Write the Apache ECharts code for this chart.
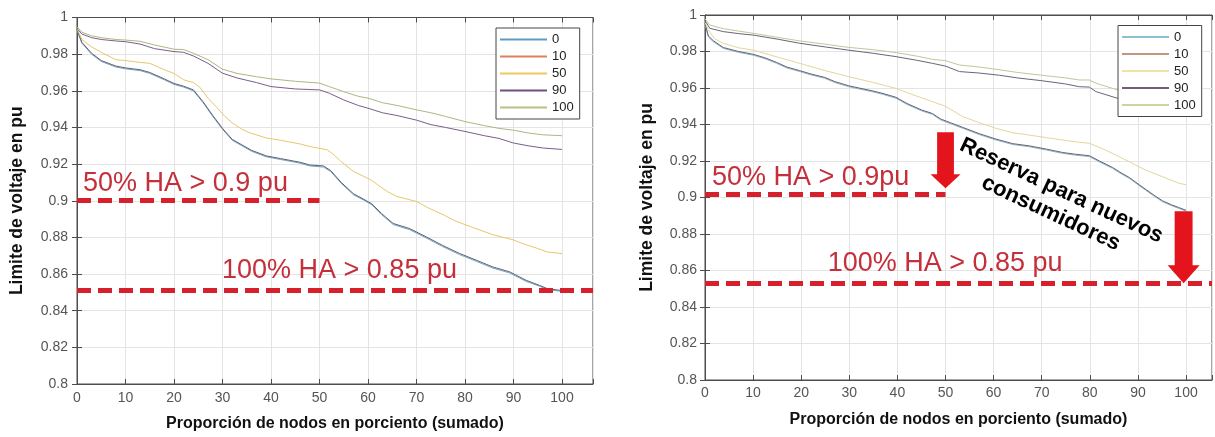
<!DOCTYPE html>
<html><head><meta charset="utf-8">
<script src="https://cdn.jsdelivr.net/npm/echarts@6/dist/echarts.min.js"></script>
<style>html,body{margin:0;padding:0;background:#fff}#c{width:1215px;height:437px}</style>
</head><body><div id="c"></div>
<script>
// ---------- data ----------
const seriesNames = ['0', '10', '50', '90', '100'];
const xAxisTitle = 'Proporción de nodos en porciento (sumado)';
const yAxisTitle = 'Limite de voltaje en pu';

// Left chart
const left0 = [[0,0.993],[1,0.986],[3,0.980],[5,0.976],[8,0.973],[10,0.972],[13,0.971],[15,0.9695],[18,0.966],[20,0.9635],[22,0.962],[24,0.960],[26,0.9535],[28,0.946],[30,0.939],[32,0.933],[34,0.930],[36,0.927],[39,0.924],[42,0.9225],[46,0.9205],[48,0.919],[50.8,0.9184],[52.3,0.916],[54.4,0.9097],[57,0.9033],[59,0.9005],[60.8,0.8978],[62.8,0.8924],[65.2,0.887],[68.6,0.8842],[72,0.8797],[75.4,0.875],[78.9,0.8706],[82.3,0.867],[85.7,0.8633],[89.2,0.8606],[92.6,0.856],[95.4,0.8533],[97,0.8515],[100,0.8505]];
const left10 = [[0,0.9935],[1,0.9865],[3,0.9805],[5,0.9765],[8,0.9735],[10,0.9725],[13,0.9715],[15,0.970],[18,0.9665],[20,0.964],[22,0.9625],[24,0.9605],[26,0.954],[28,0.9465],[30,0.9395],[32,0.9335],[34,0.9305],[36,0.9275],[39,0.9245],[42,0.923],[46,0.921],[48,0.9195],[50.8,0.919],[52.3,0.9165],[54.4,0.9102],[57,0.9038],[59,0.901],[60.8,0.8983],[62.8,0.893],[65.2,0.8876],[68.6,0.8848],[72,0.8803],[75.4,0.8756],[78.9,0.8712],[82.3,0.8676],[85.7,0.8639],[89.2,0.8612],[92.6,0.8566],[95.4,0.8538],[97,0.852],[100,0.851]];
const left50 = [[0,0.994],[1,0.988],[3,0.984],[5,0.981],[8,0.977],[10,0.9765],[13,0.9755],[15,0.975],[18,0.9715],[20,0.9695],[22,0.966],[24,0.9645],[25.3,0.962],[27,0.956],[28.8,0.951],[30.5,0.946],[32,0.9425],[34,0.939],[35.7,0.937],[39,0.9343],[42,0.933],[46,0.931],[48,0.9296],[51.6,0.9278],[53,0.925],[54.4,0.9215],[57,0.916],[60.6,0.9114],[62,0.9087],[64,0.905],[66,0.9023],[70,0.8996],[72.5,0.896],[75.5,0.8924],[78,0.889],[81,0.886],[85.7,0.8815],[89.9,0.8787],[92,0.8765],[94.7,0.8742],[97,0.872],[100,0.8712]];
const left90 = [[0,0.994],[1,0.991],[3,0.989],[5,0.988],[8,0.9872],[10,0.9868],[13,0.9855],[16,0.983],[20,0.9814],[22,0.981],[24,0.979],[27,0.975],[30,0.9696],[33,0.967],[37,0.9645],[40,0.9623],[45,0.961],[50,0.9605],[52,0.9587],[55,0.955],[58,0.952],[60,0.9505],[63,0.948],[66,0.9465],[70,0.944],[73,0.9415],[76,0.94],[80,0.9378],[84,0.9355],[87,0.934],[90,0.9315],[93,0.930],[96,0.9288],[100,0.928]];
const left100 = [[0,0.995],[1,0.992],[3,0.990],[5,0.989],[8,0.988],[10,0.9877],[13,0.987],[16,0.985],[20,0.9827],[22,0.9825],[24,0.9805],[27,0.977],[30,0.9718],[33,0.9695],[37,0.9677],[40,0.9665],[45,0.9652],[50,0.9642],[52,0.9623],[55,0.9595],[58,0.957],[60,0.956],[63,0.9535],[66,0.952],[70,0.9496],[73,0.948],[76,0.946],[80,0.9432],[84,0.941],[87,0.9395],[90,0.9385],[93,0.937],[96,0.936],[100,0.9355]];

// Right chart
const right0 = [[0,0.995],[0.7,0.988],[1.7,0.9854],[3.8,0.9817],[7,0.9795],[10,0.978],[12.5,0.976],[14.9,0.9735],[17,0.971],[19.7,0.969],[22,0.9672],[24.9,0.9653],[27,0.963],[29.9,0.9607],[32,0.9595],[34.7,0.958],[37,0.9565],[39.7,0.9544],[42,0.951],[45,0.9475],[47.3,0.9455],[49,0.9425],[51,0.9405],[53.6,0.9379],[57,0.9345],[60.5,0.9315],[64,0.929],[67.4,0.9278],[71,0.926],[74.3,0.9242],[77,0.9232],[79.9,0.9224],[82,0.9195],[84.7,0.916],[86.5,0.913],[88.2,0.9105],[90,0.907],[91.6,0.904],[93.5,0.9005],[95.1,0.8977],[97,0.8955],[98.5,0.894],[100,0.8925]];
const right10 = [[0,0.9955],[0.7,0.9885],[1.7,0.986],[3.8,0.9822],[7,0.98],[10,0.9785],[12.5,0.9765],[14.9,0.974],[17,0.9715],[19.7,0.9695],[22,0.9677],[24.9,0.9658],[27,0.9635],[29.9,0.9612],[32,0.96],[34.7,0.9585],[37,0.957],[39.7,0.9549],[42,0.9515],[45,0.948],[47.3,0.946],[49,0.943],[51,0.941],[53.6,0.9384],[57,0.935],[60.5,0.932],[64,0.9295],[67.4,0.9283],[71,0.9265],[74.3,0.9247],[77,0.9237],[79.9,0.9229],[82,0.92],[84.7,0.9165],[86.5,0.9135],[88.2,0.911],[90,0.9075],[91.6,0.9045],[93.5,0.901],[95.1,0.8982],[97,0.896],[98.5,0.8945],[100,0.893]];
const right50 = [[0,0.996],[0.7,0.9918],[2,0.987],[3.8,0.9845],[7,0.982],[10,0.9808],[15,0.977],[19.7,0.9735],[25,0.9695],[29.9,0.9662],[35,0.963],[39.7,0.9598],[43,0.9565],[47.3,0.9525],[50,0.950],[53.6,0.9443],[57,0.941],[60.5,0.9379],[64,0.9355],[67.4,0.9342],[71,0.9328],[74.3,0.9315],[77,0.9305],[79.9,0.9297],[83.3,0.926],[86,0.9225],[88.2,0.9196],[91.6,0.915],[95.1,0.9114],[98.5,0.9078],[100,0.907]];
const right90 = [[0,0.997],[1,0.9927],[3.8,0.9909],[7,0.9898],[10,0.989],[15,0.9868],[19.7,0.9845],[25,0.9825],[29.7,0.9808],[35,0.979],[39.7,0.9772],[44,0.9752],[47.3,0.9735],[50,0.972],[52.9,0.969],[57,0.9682],[61.2,0.967],[65,0.9655],[70,0.964],[75,0.9622],[77.8,0.9607],[79.9,0.9605],[81.3,0.958],[85.7,0.9544],[90,0.951],[95,0.948],[100,0.946]];
const right100 = [[0,0.998],[1,0.9945],[3.8,0.9925],[7,0.9912],[10,0.990],[15,0.9878],[19.7,0.9858],[25,0.984],[29.7,0.9823],[35,0.981],[39.7,0.9794],[44,0.9775],[47.3,0.9757],[50,0.975],[52.9,0.9726],[57,0.9715],[61.2,0.970],[65,0.9685],[70,0.967],[75,0.9655],[77.8,0.9644],[79.9,0.9644],[81.3,0.9626],[85.7,0.959],[90,0.956],[95,0.954],[100,0.952]];

// Annotations (data coordinates)
const leftLimitLines = [[0, 50, 0.9005], [0, 106.39, 0.851]];       // [xStart, xEnd, y]
const rightLimitLines = [[0, 50, 0.902], [0, 105.4, 0.853]];
const leftTexts = [['50% HA > 0.9 pu', 1.24, 0.9093], ['100% HA > 0.85 pu', 29.9, 0.8621]];
const rightTexts = [['50% HA > 0.9pu', 1.45, 0.9107], ['100% HA > 0.85 pu', 25.5, 0.8636]];
const rightArrows = [[50, 0.9204, 30, 56], [99.5, 0.8727, 32, 72]];   // [x, y, w, h]
const reserveText = ['Reserva para nuevos\nconsumidores', 73, 0.8975];

// ---------- styling ----------
const FONT = '"Liberation Sans", Arial, Helvetica, sans-serif';
const leftLineColors = ['#7aa5c2', '#5e6274', '#e9c66e', '#7a5e8a', '#acb882'];
const leftLegendColors = ['#5e9bc4', '#d9825b', '#ecc95c', '#6e4f82', '#b5c482'];
const rightLineColors = ['#92b6ca', '#626574', '#e4d69a', '#6a6479', '#c4c59c'];
const rightLegendColors = ['#8ec0d2', '#c7957f', '#f0e2a2', '#6d6078', '#cfd2a2'];
const AXC = '#4d4d4d';

function xAxes(gi, max, gap, margin) {
  return [{
    type: 'value', gridIndex: gi, min: 0, max: max, interval: 10, position: 'bottom',
    axisLine: { show: true, lineStyle: { color: AXC } },
    axisTick: { show: true, inside: true, length: 5, lineStyle: { color: AXC } },
    axisLabel: { fontSize: 14, color: '#555', margin: margin, fontFamily: FONT,
      formatter: v => (Math.abs(v / 10 - Math.round(v / 10)) < 1e-6 ? String(Math.round(v)) : '') },
    splitLine: { show: true, lineStyle: { color: '#e4e4e4' } },
    name: xAxisTitle, nameLocation: 'middle', nameGap: gap,
    nameTextStyle: { fontSize: 16, fontWeight: 'bold', color: '#111', fontFamily: FONT }
  }, {
    type: 'value', gridIndex: gi, min: 0, max: max, interval: 10, position: 'top',
    axisLine: { show: true, lineStyle: { color: AXC } },
    axisTick: { show: true, inside: true, length: 5, lineStyle: { color: AXC } },
    axisLabel: { show: false }, splitLine: { show: false }
  }];
}
function yAxes(gi, gap, margin) {
  return [{
    type: 'value', gridIndex: gi, min: 0.8, max: 1, interval: 0.02, position: 'left',
    axisLine: { show: true, lineStyle: { color: AXC } },
    axisTick: { show: true, inside: true, length: 5, lineStyle: { color: AXC } },
    axisLabel: { fontSize: 14, color: '#555', margin: margin, fontFamily: FONT },
    splitLine: { show: true, lineStyle: { color: '#e4e4e4' } },
    name: yAxisTitle, nameLocation: 'middle', nameGap: gap,
    nameTextStyle: { fontSize: 17.5, fontWeight: 'bold', color: '#111', fontFamily: FONT }
  }, {
    type: 'value', gridIndex: gi, min: 0.8, max: 1, interval: 0.02, position: 'right',
    axisLine: { show: true, lineStyle: { color: AXC } },
    axisTick: { show: true, inside: true, length: 5, lineStyle: { color: AXC } },
    axisLabel: { show: false }, splitLine: { show: false }
  }];
}

function lineSeries(datas, colors, xi, yi) {
  return datas.map((d, i) => ({
    type: 'line', name: seriesNames[i], data: d, xAxisIndex: xi, yAxisIndex: yi,
    symbol: 'none', showSymbol: false, silent: true, z: 2,
    lineStyle: { color: colors[i], width: 1 }, itemStyle: { color: colors[i] },
    emphasis: { disabled: true }
  }));
}

function annotSeries(xi, yi, limits, texts) {
  return {
    type: 'scatter', name: 'annot', xAxisIndex: xi, yAxisIndex: yi, silent: true, z: 6,
    symbolSize: 1, itemStyle: { color: 'rgba(0,0,0,0)', opacity: 1 },
    data: texts.map(t => ({ name: t[0], value: [t[1], t[2]] })),
    label: { show: true, position: 'inside', align: 'left', verticalAlign: 'middle',
      formatter: '{b}', fontSize: 27, color: '#c42f3a', fontFamily: FONT,
      opacity: 1, textBorderWidth: 0 },
    emphasis: { disabled: true },
    markLine: {
      silent: true, symbol: ['none', 'none'], label: { show: false },
      lineStyle: { color: '#d7202b', width: 5, type: [14, 7], opacity: 1 },
      emphasis: { disabled: true },
      data: limits.map(l => [{ coord: [l[0], l[2]] }, { coord: [l[1], l[2]] }])
    }
  };
}

function legendFor(left, top, colors) {
  return {
    orient: 'vertical', left: left, top: top, padding: [3, 6, 3, 4], itemGap: 0,
    itemWidth: 47, itemHeight: 2, icon: 'rect', backgroundColor: '#fff',
    borderColor: '#444', borderWidth: 1, borderRadius: 0, selectedMode: false, z: 10,
    textStyle: { fontSize: 13, lineHeight: 17, color: '#222', fontFamily: FONT },
    data: seriesNames.map((n, i) => ({ name: n, itemStyle: { color: colors[i] } }))
  };
}

const option = {
  animation: false,
  backgroundColor: '#fff',
  textStyle: { fontFamily: FONT },
  grid: [
    { left: 77, top: 17.5, width: 516, height: 366.5, show: true, borderColor: AXC, borderWidth: 1, backgroundColor: 'rgba(0,0,0,0)' },
    { left: 705, top: 15, width: 508, height: 365, show: true, borderColor: AXC, borderWidth: 1, backgroundColor: 'rgba(0,0,0,0)' }
  ],
  xAxis: [...xAxes(0, 106.39, 32, 7), ...xAxes(1, 105.4, 32, 6)],
  yAxis: [...yAxes(0, 51, 9), ...yAxes(1, 48.5, 8)],
  legend: [legendFor(496, 28, leftLegendColors), legendFor(1118, 25.5, rightLegendColors)],
  series: [
    ...lineSeries([left0, left10, left50, left90, left100], leftLineColors, 0, 0),
    ...lineSeries([right0, right10, right50, right90, right100], rightLineColors, 2, 2),
    annotSeries(0, 0, leftLimitLines, leftTexts),
    annotSeries(2, 2, rightLimitLines, rightTexts),
    {
      type: 'scatter', name: 'arrows', xAxisIndex: 2, yAxisIndex: 2, silent: true, z: 7,
      symbol: 'path://M22,0 L78,0 L78,75 L100,75 L50,100 L0,75 L22,75 Z',
      symbolKeepAspect: false,
      itemStyle: { color: '#e3141c', opacity: 1 },
      emphasis: { disabled: true },
      data: rightArrows.map(a => ({ value: [a[0], a[1]], symbolSize: [a[2], a[3]] }))
    },
    {
      type: 'scatter', name: 'reserve', xAxisIndex: 2, yAxisIndex: 2, silent: true, z: 8,
      symbolSize: 1, itemStyle: { color: 'rgba(0,0,0,0)', opacity: 1 },
      emphasis: { disabled: true },
      data: [{ name: reserveText[0], value: [reserveText[1], reserveText[2]] }],
      label: { show: true, position: 'inside', align: 'center', verticalAlign: 'middle',
        rotate: -25, formatter: '{b}', fontSize: 22, lineHeight: 25, fontWeight: 'bold',
        color: '#000', fontFamily: FONT, opacity: 1, textBorderWidth: 0 }
    }
  ]
};

const chart = echarts.init(document.getElementById('c'), null, { renderer: 'canvas' });
chart.setOption(option);
</script></body></html>
